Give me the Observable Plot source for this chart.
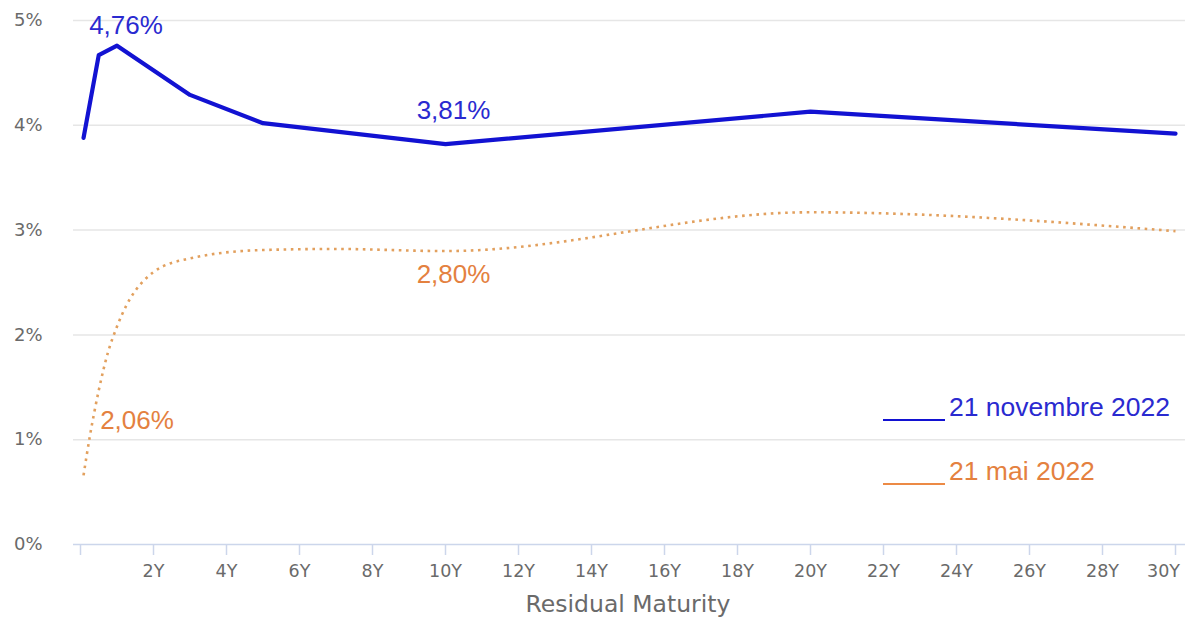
<!DOCTYPE html>
<html>
<head>
<meta charset="utf-8">
<script src="https://cdn.jsdelivr.net/npm/d3@7"></script>
<script src="https://cdn.jsdelivr.net/npm/@observablehq/plot@0.6"></script>
<style>
  html, body { margin: 0; padding: 0; background: #fff; }
  #wrap { position: relative; width: 1192px; height: 619px; }
  #legend { position: absolute; left: 883px; top: 393px; font-family: "Liberation Sans", Arial, sans-serif; font-size: 26.5px; }
  .lg-row { display: flex; align-items: flex-end; height: 30px; margin-bottom: 34px; }
  .lg-line { display: inline-block; width: 62px; height: 0; margin-bottom: 2px; margin-right: 4px; }
</style>
</head>
<body>
<div id="wrap"><div id="legend"></div></div>
<script>
// Residual maturity in years
const novMaturity = [1/12, 0.5, 1, 3, 5, 10, 20, 30];
const novYield    = [3.88, 4.67, 4.76, 4.29, 4.02, 3.82, 4.13, 3.92];

const maiMaturity = [1/12, 0.25, 0.5, 0.75, 1, 2, 3, 5, 7, 10, 20, 30];
const maiYield    = [0.66, 1.02, 1.47, 1.83, 2.08, 2.60, 2.73, 2.81, 2.82, 2.80, 3.17, 2.99];

const seriesNames  = ["21 novembre 2022", "21 mai 2022"];
const seriesColors = ["#1212d2", "#e2a05e"];
const legendLineColors = ["#1212d2", "#ec8a45"];
const labelColors  = ["#2a2ad0", "#e4813f"];

const xTicks = [0, 2, 4, 6, 8, 10, 12, 14, 16, 18, 20, 22, 24, 26, 28, 30];
const yTicks = [0, 1, 2, 3, 4, 5];

// annotated values
const novLabels = [{m: 1, v: 4.76, t: "4,76%"}, {m: 10, v: 3.81, t: "3,81%"}];
const maiLabels = [{m: 1, v: 2.06, t: "2,06%"}, {m: 10, v: 2.80, t: "2,80%"}];

const nov = novMaturity.map((m, i) => ({m, v: novYield[i]}));
const mai = maiMaturity.map((m, i) => ({m, v: maiYield[i]}));

const labelFont = {fontFamily: "Liberation Sans, Arial, sans-serif", fontSize: 26};
const lastTick = xTicks[xTicks.length - 1];

const chart = Plot.plot({
  width: 1192,
  height: 619,
  marginTop: 20,
  marginBottom: 75,
  marginLeft: 80,
  marginRight: 17,
  style: {fontFamily: "DejaVu Sans, Verdana, sans-serif", background: "#fff"},
  x: {domain: [0, 30]},
  y: {domain: [0, 5]},
  marks: [
    Plot.ruleY(yTicks.filter(d => d > 0), {y: d => d, stroke: "#e6e6e6", strokeWidth: 1.5, insetLeft: -7, insetRight: -10}),
    Plot.ruleY([0], {y: d => d, stroke: "#ccd6eb", strokeWidth: 1.5, insetLeft: -7, insetRight: -10}),
    Plot.axisY({ticks: yTicks, tickSize: 0, tickPadding: 38, tickFormat: d => d + "%", fill: "#6a6a6a", fontSize: 18, label: null}),
    Plot.axisX({ticks: xTicks, tickSize: 11, tickPadding: 9, stroke: "#ccd6eb", strokeWidth: 1.5, fill: "#6a6a6a", fontSize: 17.5,
                tickFormat: d => (d === 0 || d === lastTick) ? "" : d + "Y", label: null}),
    Plot.text([lastTick], {x: d => d, frameAnchor: "bottom", dy: 20, dx: -12, lineAnchor: "top", text: d => d + "Y", fill: "#6a6a6a", fontSize: 17.5}),
    Plot.text(["Residual Maturity"], {frameAnchor: "bottom", dy: 67, fill: "#6a6a6a", fontSize: 23.5, text: d => d}),
    Plot.line(mai, {x: "m", y: "v", stroke: seriesColors[1], strokeWidth: 2.6, strokeDasharray: "2.6,4.6",
                    strokeLinecap: "butt", curve: "monotone-x"}),
    Plot.line(nov, {x: "m", y: "v", stroke: seriesColors[0], strokeWidth: 4.2, strokeLinejoin: "round"}),
    Plot.text(novLabels.slice(0, 1), {x: "m", y: "v", text: "t", fill: labelColors[0], ...labelFont, lineAnchor: "bottom", dx: 9, dy: -12}),
    Plot.text(novLabels.slice(1), {x: "m", y: "v", text: "t", fill: labelColors[0], ...labelFont, lineAnchor: "bottom", dx: 8, dy: -26}),
    Plot.text(maiLabels.slice(0, 1), {x: "m", y: "v", text: "t", fill: labelColors[1], ...labelFont, lineAnchor: "bottom", dx: 20, dy: 100}),
    Plot.text(maiLabels.slice(1), {x: "m", y: "v", text: "t", fill: labelColors[1], ...labelFont, lineAnchor: "bottom", dx: 8, dy: 32})
  ]
});

const wrap = document.getElementById("wrap");
wrap.insertBefore(chart, wrap.firstChild);

const legend = document.getElementById("legend");
seriesNames.forEach((name, i) => {
  const row = document.createElement("div");
  row.className = "lg-row";
  const line = document.createElement("span");
  line.className = "lg-line";
  line.style.borderBottom = "2px solid " + legendLineColors[i];
  const txt = document.createElement("span");
  txt.textContent = name;
  txt.style.color = labelColors[i];
  row.appendChild(line);
  row.appendChild(txt);
  legend.appendChild(row);
});
</script>
</body>
</html>
